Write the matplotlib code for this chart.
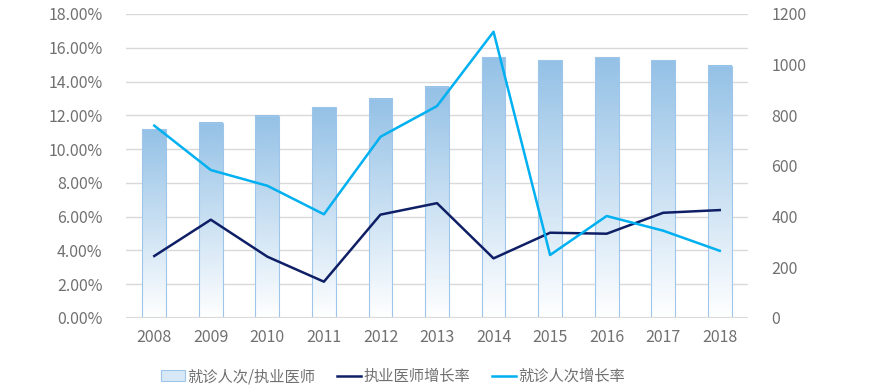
import numpy as np
import matplotlib
matplotlib.use("Agg")
import matplotlib.pyplot as plt
from matplotlib.lines import Line2D
from matplotlib.patches import Patch
from matplotlib.colors import LinearSegmentedColormap

plt.rcParams['font.family'] = ['Noto Sans CJK SC', 'DejaVu Sans']

years = ['2008', '2009', '2010', '2011', '2012', '2013', '2014', '2015', '2016', '2017', '2018']
visits_per_doctor = [746, 770, 799, 832, 865, 912, 1029, 1017, 1029, 1017, 995]
doctor_growth = [3.67, 5.82, 3.63, 2.15, 6.12, 6.80, 3.53, 5.05, 4.99, 6.23, 6.39]
visit_growth = [11.39, 8.76, 7.83, 6.14, 10.73, 12.55, 16.95, 3.73, 6.04, 5.17, 3.98]

left_ticks = [0, 2, 4, 6, 8, 10, 12, 14, 16, 18]
right_ticks = [0, 200, 400, 600, 800, 1000, 1200]

label_bar = '就诊人次/执业医师'
label_doc = '执业医师增长率'
label_visit = '就诊人次增长率'

text_color = '#707070'
grid_color = '#d9d9d9'
bar_top = '#94c1e6'
bar_edge = '#9dc6ea'
navy = '#0f1f66'
cyan = '#00b0f0'

fig = plt.figure(figsize=(8.83, 3.89), dpi=100)
axb = fig.add_axes([126 / 883, 1 - 318 / 389, (748 - 126) / 883, (318 - 14) / 389])
axl = axb.twinx()

x = np.arange(len(years))
w = 0.42
cmap = LinearSegmentedColormap.from_list('g', ['#ffffff', bar_top])
grad = np.linspace(0, 1, 256).reshape(-1, 1)

axb.set_xlim(-0.5, len(years) - 0.5)
axb.set_ylim(0, 1200)
# gridlines aligned with left axis ticks (behind bars)
for t in left_ticks[1:]:
    axb.axhline(t * 1200 / 18, color=grid_color, lw=1.0, zorder=0)
axb.axhline(0, color=grid_color, lw=1.5, zorder=3)

for xi, v in zip(x, visits_per_doctor):
    axb.imshow(grad, extent=[xi - w / 2, xi + w / 2, 0, v], origin='lower',
               cmap=cmap, aspect='auto', zorder=1, interpolation='bicubic')
    axb.bar(xi, v, width=w, facecolor='none', edgecolor=bar_edge, lw=0.8, zorder=2)
axb.set_xlim(-0.5, len(years) - 0.5)
axb.set_ylim(0, 1200)
axb.set_aspect('auto')

axl.plot(x, doctor_growth, color=navy, lw=1.8, zorder=5)
axl.plot(x, visit_growth, color=cyan, lw=1.8, zorder=5)
axl.set_ylim(0, 18)

# ticks: bars axis on right, lines axis on left
axb.yaxis.tick_right()
axb.set_yticks(right_ticks)
axb.set_yticklabels([str(t) for t in right_ticks])
axl.yaxis.tick_left()
axl.set_yticks(left_ticks)
axl.set_yticklabels([f'{t:.2f}%' for t in left_ticks])
axb.set_xticks(x)
axb.set_xticklabels(years)

for a in (axb, axl):
    for s in a.spines.values():
        s.set_visible(False)
    a.tick_params(length=0, colors=text_color, labelsize=11.5)
axb.tick_params(axis='x', pad=8)
axb.tick_params(axis='y', pad=17)
axl.tick_params(axis='y', pad=17)

handles = [Patch(facecolor='#d8e8f6', edgecolor=bar_edge, lw=0.8),
           Line2D([], [], color=navy, lw=1.8),
           Line2D([], [], color=cyan, lw=1.8)]
leg = fig.legend(handles, [label_bar, label_doc, label_visit], loc='center',
                 bbox_to_anchor=(0.445, 0.032), ncol=3, frameon=False,
                 fontsize=11, handlelength=1.6, handletextpad=0.15, columnspacing=1.4)
for t in leg.get_texts():
    t.set_color(text_color)

fig.savefig('out.png', dpi=100)
